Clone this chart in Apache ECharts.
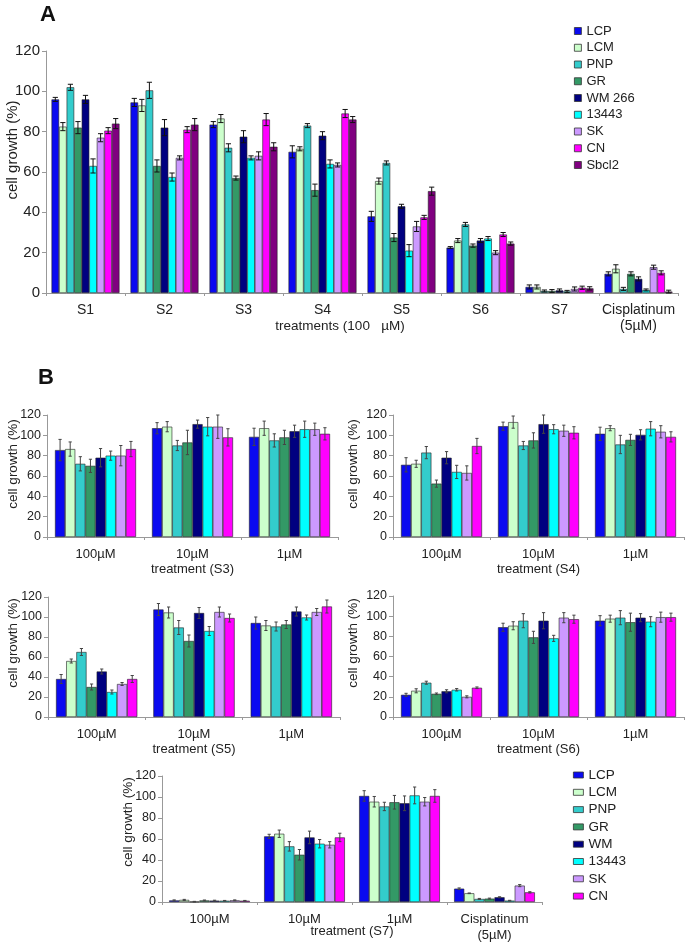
<!DOCTYPE html>
<html><head><meta charset="utf-8">
<script src="https://cdn.jsdelivr.net/npm/echarts@6/dist/echarts.min.js"></script>
<style>html,body{margin:0;padding:0;background:#fff}#c{width:685px;height:947px}</style>
</head><body><div id="c"></div><script>
const FONT = '"Liberation Sans", Arial, sans-serif';
// ---------- data ----------
const seriesA = ['LCP','LCM','PNP','GR','WM 266','13443','SK','CN','Sbcl2'];
const seriesB = ['LCP','LCM','PNP','GR','WM','13443','SK','CN'];
const colors = ['#0a0af0','#ccffcc','#33cccc','#339966','#000080','#00ffff','#cc99ff','#ff00ff','#800080'];
const catsA = ['S1','S2','S3','S4','S5','S6','S7','Cisplatinum\n(5µM)'];
const catsB = ['100µM','10µM','1µM'];
const catsB7 = ['100µM','10µM','1µM','Cisplatinum\n(5µM)'];
const yTickMin = 0, yTickMax = 120, yTickStep = 20;

// Panel A (per series across S1..S7, Cisplatinum)
const A_LCP   = [96, 94.5, 83.5, 70, 38, 22.5, 3, 9.5];
const A_LCM   = [82.5, 93, 86.5, 71.5, 55.5, 26, 3, 12];
const A_PNP   = [102, 100.5, 72, 83, 64.5, 34, 1, 2];
const A_GR    = [82, 63, 57, 51, 27.5, 23.5, 1, 9.5];
const A_WM    = [96, 82, 77.5, 78, 43, 26, 1.3, 7];
const A_13443 = [63, 57.5, 67, 64, 21, 27, 0.8, 1.5];
const A_SK    = [77, 67, 68, 63.5, 33, 20, 2, 12.8];
const A_CN    = [80.5, 81, 86, 89, 37.5, 29, 2.6, 10];
const A_Sbcl2 = [84, 83.5, 72.5, 86, 50.5, 24.5, 2.3, 0.7];
const A_LCP_e   = [1, 2, 1.5, 3, 2.5, 0.5, 1, 1];
const A_LCM_e   = [2, 3, 2, 1, 1.5, 1, 1, 2];
const A_PNP_e   = [1.5, 4, 2, 1, 1, 1, 0.5, 0.8];
const A_GR_e    = [3, 3, 1, 3, 2, 0.8, 0.7, 1];
const A_WM_e    = [2, 4, 3, 2, 1, 1, 0.7, 1];
const A_13443_e = [3.5, 2, 1, 2, 3, 1, 0.5, 0.5];
const A_SK_e    = [2, 1, 2, 1, 2.5, 1, 1, 1];
const A_CN_e    = [1.5, 1.5, 3, 2, 1, 1, 0.8, 1];
const A_Sbcl2_e = [2.5, 3, 2, 1.5, 2, 0.8, 0.8, 0.7];

// Panel B, treatment S3
const S3_vals = [[85.5,107,98.5],[86.5,108.5,107],[72,90,95],[70,93,98],[78,111,104],[80,108.5,106],[80,108.5,106],[86.5,98,101.5]];
const S3_errs = [[10.5,5.5,8.5],[7,5,7],[7,5,6.5],[6.5,12,7],[9,4,6],[4.5,9,8],[10,11.5,6],[7.5,8.5,6]];
// S4
const S4_vals = [[71,109,101.5],[72,113,107],[83,90,91],[52.5,95,95.5],[78,111,100.5],[64,106,106.5],[63,104.5,103.5],[89.5,102.5,98.5]];
const S4_errs = [[7,4,6.5],[3.5,6,2.5],[6,4,9],[3.5,7.5,5.5],[6,9,5],[6.5,4.5,7],[7,5.5,6],[7.5,6,5]];
// S5
const S5_vals = [[38,107.5,94],[56,104.5,91.5],[65,89.5,90.5],[30,76,92.5],[45.5,104,105.5],[25,86,99.5],[33,105,105],[38,99,110.5]];
const S5_errs = [[4.5,6,6],[2,5.5,5],[3.5,7,4.5],[3,6,4],[2.5,5.5,4.5],[2,4.5,2.5],[1.5,5,3.5],[3.5,4,6.5]];
// S6
const S6_vals = [[22,89,95.5],[26,90.5,97.5],[34,95.5,98.5],[23,79,94],[25.5,95.5,98.5],[27,78,94.5],[20,98.5,99],[29,97,99]];
const S6_errs = [[1.5,4,5],[2,4,3.5],[1.5,7,7],[0.8,6,9],[1.5,8,4],[1.2,3,5],[1,5,5],[0.8,4,4]];
// S7 (+ Cisplatinum)
const S7_vals = [[1.5,62.5,101,12.7],[2,65,95.5,8.3],[0.3,53,91,2.9],[1.5,45,95,3.2],[1.3,61.5,94,4.5],[1.2,55.5,101.5,1.3],[1.6,54.5,95.5,15.6],[1.2,61.5,101,9.2]];
const S7_errs = [[0.5,2,5,0.7],[0.5,3.5,5,0.3],[0.3,4.5,4,0.5],[0.4,5,6.5,0.5],[0.4,6,7,0.5],[0.3,4,8,0.3],[0.4,3,4,1],[0.3,4,6,0.6]];

const A_vals = [A_LCP,A_LCM,A_PNP,A_GR,A_WM,A_13443,A_SK,A_CN,A_Sbcl2];
const A_errs = [A_LCP_e,A_LCM_e,A_PNP_e,A_GR_e,A_WM_e,A_13443_e,A_SK_e,A_CN_e,A_Sbcl2_e];

// ---------- layout ----------
const panels = [
  {grid:{left:46,top:51,width:632,height:242}, cats:catsA, names:seriesA, vals:A_vals, errs:A_errs, gap:14, tickFs:15, catFs:14, catMargin:9, cap:2.6, errColor:'#111', xname:null},
  {grid:{left:47,top:415,width:291,height:122}, cats:catsB, names:seriesB, vals:S3_vals, errs:S3_errs, gap:16.5, tickFs:12.5, catFs:13, catMargin:9, cap:1.6, errColor:'#444', xname:'treatment (S3)'},
  {grid:{left:393,top:415,width:291,height:122}, cats:catsB, names:seriesB, vals:S4_vals, errs:S4_errs, gap:16.5, tickFs:12.5, catFs:13, catMargin:9, cap:1.6, errColor:'#444', xname:'treatment (S4)'},
  {grid:{left:48,top:597,width:292,height:120}, cats:catsB, names:seriesB, vals:S5_vals, errs:S5_errs, gap:16.5, tickFs:12.5, catFs:13, catMargin:9, cap:1.6, errColor:'#444', xname:'treatment (S5)'},
  {grid:{left:393,top:596,width:291,height:121}, cats:catsB, names:seriesB, vals:S6_vals, errs:S6_errs, gap:16.5, tickFs:12.5, catFs:13, catMargin:9, cap:1.6, errColor:'#444', xname:'treatment (S6)'},
  {grid:{left:162,top:776,width:380,height:126}, cats:catsB7, names:seriesB, vals:S7_vals, errs:S7_errs, gap:15, tickFs:12.5, catFs:13, catMargin:9, cap:1.6, errColor:'#444', xname:null}
];

function errRender(n, gapPct, capW, color) {
  return function (params, api) {
    const cat = api.value(0), v = api.value(1), e = api.value(2), si = api.value(3);
    const top = api.coord([cat, v + e]);
    const bot = api.coord([cat, Math.max(v - e, 0)]);
    const bw = api.size([1, 0])[0];
    const gw = bw * (1 - gapPct / 100);
    const x = top[0] - gw / 2 + (si + 0.5) * gw / n;
    const style = {stroke: color, lineWidth: 1};
    return {type: 'group', children: [
      {type: 'line', shape: {x1: x, y1: top[1], x2: x, y2: bot[1]}, style},
      {type: 'line', shape: {x1: x - capW, y1: top[1], x2: x + capW, y2: top[1]}, style},
      {type: 'line', shape: {x1: x - capW, y1: bot[1], x2: x + capW, y2: bot[1]}, style}
    ]};
  };
}

const grid = [], xAxis = [], yAxis = [], series = [];
panels.forEach((p, i) => {
  grid.push(Object.assign({containLabel: false}, p.grid));
  xAxis.push({
    type: 'category', gridIndex: i, data: p.cats, boundaryGap: true,
    axisLine: {lineStyle: {color: '#999', width: 1}},
    axisTick: {show: true, length: 3, lineStyle: {color: '#999'}},
    axisLabel: {interval: 0, color: '#222', fontFamily: FONT, fontSize: p.catFs, margin: p.catMargin, lineHeight: 16},
    name: p.xname || '', nameLocation: 'middle', nameGap: 23,
    nameTextStyle: {color: '#222', fontFamily: FONT, fontSize: 13}
  });
  yAxis.push({
    type: 'value', gridIndex: i, min: yTickMin, max: yTickMax, interval: yTickStep,
    axisLine: {show: true, lineStyle: {color: '#999', width: 1}},
    axisTick: {show: true, length: 4, lineStyle: {color: '#999'}},
    splitLine: {show: false},
    axisLabel: {color: '#222', fontFamily: FONT, fontSize: p.tickFs, margin: 6}
  });
  const errData = [];
  p.names.forEach((nm, si) => {
    series.push({
      type: 'bar', name: nm, xAxisIndex: i, yAxisIndex: i, data: p.vals[si],
      barGap: '0%', barCategoryGap: p.gap + '%',
      itemStyle: {color: colors[si], borderColor: '#222', borderWidth: 0.6},
      emphasis: {disabled: true}
    });
    p.vals[si].forEach((v, ci) => errData.push([ci, v, p.errs[si][ci], si]));
  });
  series.push({
    type: 'custom', xAxisIndex: i, yAxisIndex: i, data: errData, z: 10, silent: true,
    encode: {x: 0, y: 1},
    renderItem: errRender(p.names.length, p.gap, p.cap, p.errColor)
  });
});

const ytitle = (x, y, fs) => ({type: 'text', x: x, y: y, rotation: Math.PI / 2,
  style: {text: 'cell growth (%)', fontFamily: FONT, fontSize: fs, fill: '#222', align: 'center', verticalAlign: 'middle'}});

const option = {
  animation: false,
  backgroundColor: '#fff',
  grid, xAxis, yAxis, series,
  legend: [
    {data: seriesA, orient: 'vertical', left: 574, top: 23, padding: 0, icon: 'rect', itemWidth: 7, itemHeight: 7, itemGap: 0.75,
     itemStyle: {borderColor: '#333', borderWidth: 0.8}, selectedMode: false,
     textStyle: {fontFamily: FONT, fontSize: 13, color: '#222', lineHeight: 16}},
    {data: seriesB, orient: 'vertical', left: 573, top: 766.5, padding: 0, icon: 'rect', itemWidth: 10, itemHeight: 6, itemGap: 0.3,
     itemStyle: {borderColor: '#333', borderWidth: 0.8}, selectedMode: false,
     textStyle: {fontFamily: FONT, fontSize: 13.5, color: '#222', lineHeight: 17}}
  ],
  graphic: [
    {type: 'text', x: 48, y: 15, style: {text: 'A', fontFamily: FONT, fontSize: 22, fontWeight: 'bold', fill: '#111', align: 'center', verticalAlign: 'middle'}},
    {type: 'text', x: 46, y: 378, style: {text: 'B', fontFamily: FONT, fontSize: 22, fontWeight: 'bold', fill: '#111', align: 'center', verticalAlign: 'middle'}},
    {type: 'text', x: 340, y: 326, style: {text: 'treatments (100   µM)', fontFamily: FONT, fontSize: 13.5, fill: '#222', align: 'center', verticalAlign: 'middle'}},
    {type: 'text', x: 352, y: 931, style: {text: 'treatment (S7)', fontFamily: FONT, fontSize: 13, fill: '#222', align: 'center', verticalAlign: 'middle'}},
    ytitle(13, 150, 15),
    ytitle(13, 464, 13.5),
    ytitle(353, 464, 13.5),
    ytitle(13, 643, 13.5),
    ytitle(353, 643, 13.5),
    ytitle(128, 822, 13.5)
  ]
};
const chart = echarts.init(document.getElementById('c'), null, {renderer: 'canvas'});
chart.setOption(option);
</script></body></html>
